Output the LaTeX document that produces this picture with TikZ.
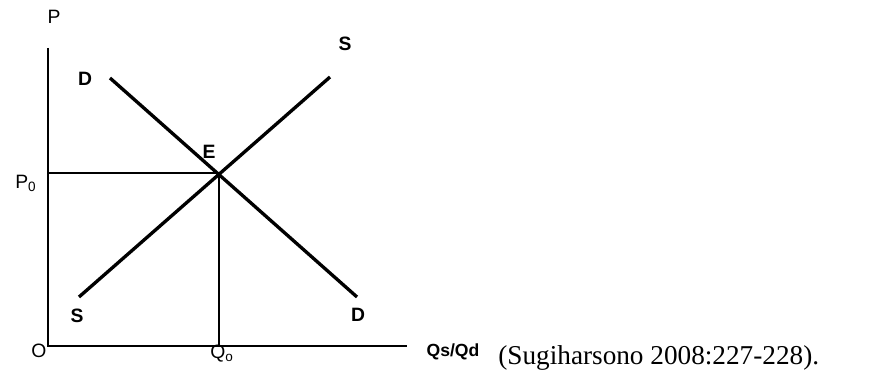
\documentclass[tikz,border=0pt]{standalone}
\usepackage{fontspec}
\setmainfont{Liberation Serif}
\setsansfont{Liberation Sans}
\usetikzlibrary{positioning}

\begin{document}
\begin{tikzpicture}[font=\sffamily,
    axis/.style={line width=1.1pt},
    curve/.style={line width=1.9pt},
    guide/.style={line width=1.2pt},
    lbl/.style={inner sep=0pt, font=\sffamily\fontsize{11}{13}\selectfont},
    blbl/.style={inner sep=0pt, font=\sffamily\bfseries\fontsize{11}{13}\selectfont}]
\useasboundingbox (0,0) rectangle (17.66,7.74);
% axes
\coordinate (orig) at (0.96,0.82);
\coordinate (ytop) at (0.96,6.78);
\coordinate (xend) at (8.14,0.82);
% curves
\coordinate (eq) at (4.38,4.28);
\coordinate (dtop) at (2.20,6.18);
\coordinate (dbot) at (7.14,1.80);
\coordinate (stop) at (6.60,6.20);
\coordinate (sbot) at (1.58,1.80);
\coordinate (pzero) at (0.96,4.28);
\coordinate (qzero) at (4.38,0.82);
\draw[axis] (ytop) -- (orig) -- (xend);
\draw[guide] (pzero) -- (eq) -- (qzero);
\draw[curve] (dtop) -- (dbot);
\draw[curve] (sbot) -- (stop);
% labels
\node[lbl] (plabel) at (1.08,7.40) {P};
\node[lbl] (p0label) at (0.52,4.08) {P\textsubscript{0}};
\node[lbl] (olabel) at (0.78,0.72) {O};
\node[lbl] (q0label) at (4.44,0.66) {Q\textsubscript{o}};
\node[blbl] (dtoplabel) at (1.70,6.16) {D};
\node[blbl] (elabel) at (4.18,4.70) {E};
\node[blbl] (stoplabel) at (6.90,6.86) {S};
\node[blbl] (sbotlabel) at (1.54,1.42) {S};
\node[blbl] (dbotlabel) at (7.16,1.44) {D};
\node[blbl, font=\sffamily\bfseries\fontsize{10}{12}\selectfont] (qlabel) at (9.06,0.70) {Qs/Qd};
\node[inner sep=0pt, anchor=base west, font=\rmfamily\fontsize{15.5}{18}\selectfont] (cite) at (9.96,0.44) {(Sugiharsono 2008:227-228).};
\end{tikzpicture}
\end{document}
